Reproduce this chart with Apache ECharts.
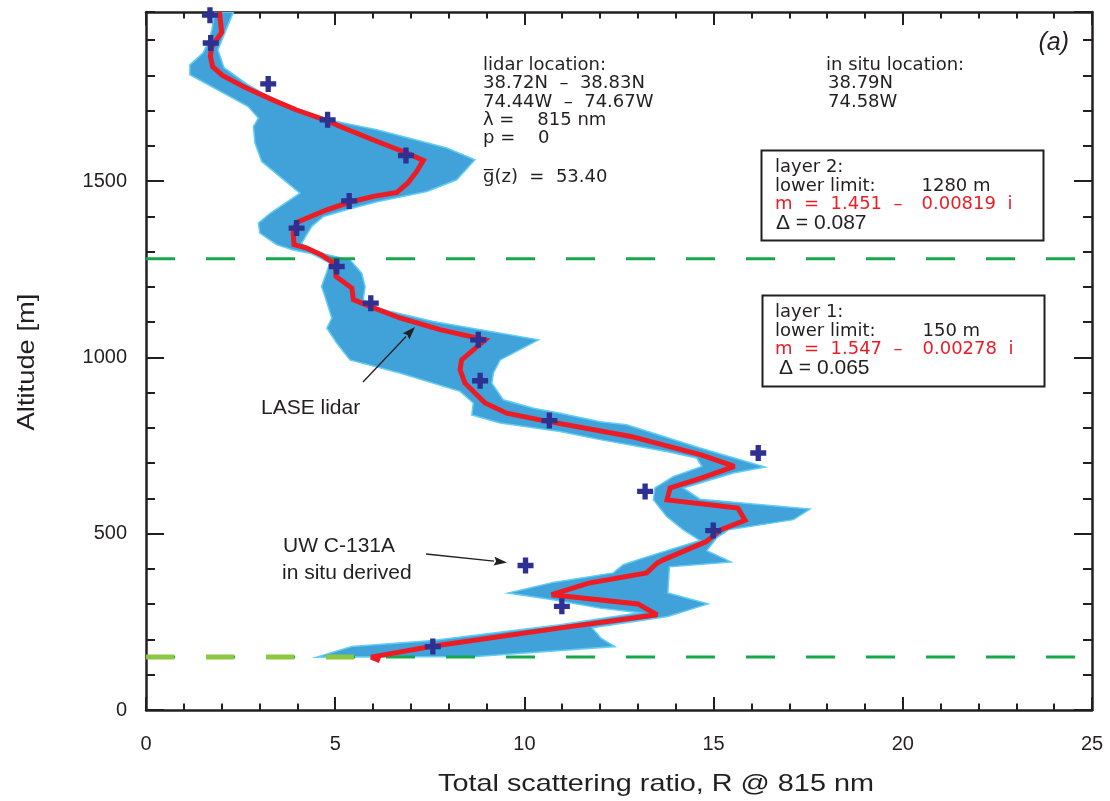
<!DOCTYPE html>
<html><head><meta charset="utf-8">
<script src="https://cdn.jsdelivr.net/npm/echarts@6/dist/echarts.min.js"></script>
<style>html,body{margin:0;padding:0;background:#fff}#c{width:1110px;height:801px}</style>
</head><body><div id="c"></div>
<script>
// ---- data (R = total scattering ratio, altitude in m) ----
const xTicks = [0, 5, 10, 15, 20, 25];
const yTicks = [0, 500, 1000, 1500];
const layerLimits = [150, 1280];

// LASE lidar profile [R, altitude]
const lidarProfile = [
  [6.18,140],[5.95,150],[7.53,180],[10.96,233],[13.51,270],[13.00,301],[10.72,327],
  [11.70,360],[13.23,389],[13.51,417],[13.67,426],[14.81,478],[15.18,511],[15.83,538],[15.64,573],
  [13.77,596],[13.85,630],[14.67,658],[15.55,691],[14.67,724],[12.81,776],[10.41,823],
  [9.53,842],[8.96,871],[8.43,927],[8.30,965],[8.34,993],[8.96,1050],[7.77,1079],
  [6.71,1112],[5.92,1145],[5.48,1164],[5.44,1197],[5.02,1230],[5.00,1265],[4.64,1291],
  [4.25,1310],[3.91,1320],[3.89,1353],[3.98,1383],[4.78,1419],[5.39,1441],[6.01,1457],
  [6.63,1468],[6.92,1495],[7.15,1527],[7.33,1559],[6.89,1580],[6.01,1617],[5.13,1655],
  [4.78,1672],[3.98,1702],[3.36,1730],[2.60,1767],[2.02,1800],[1.76,1825],[1.70,1855],
  [1.74,1882],[2.00,1922],[1.94,1980]
];

// UW C-131A in situ derived [R, altitude]
const inSitu = [
  [7.58,180],[10.99,294],[10.03,410],[14.99,509],[13.19,620],[16.18,729],[10.66,821],
  [8.83,934],[8.78,1050],[5.94,1154],[5.04,1258],[3.98,1367],[5.37,1444],[6.87,1573],
  [4.80,1674],[3.23,1776],[1.71,1892],[1.69,1971]
];

// uncertainty band: left edge bottom->top, right edge top->bottom [R, altitude]
const bandLeft = [
  [4.51,150],[5.44,180],[7.58,197],[10.94,242],[13.05,276],[12.00,289],[10.76,313],
  [9.57,332],[10.76,362],[12.35,389],[12.61,412],[13.05,428],[13.85,455],[14.64,481],
  [14.20,511],[13.76,549],[13.41,596],[13.45,630],[13.93,662],[14.69,691],[14.55,715],
  [13.76,733],[12.00,767],[10.94,790],[9.36,814],[8.61,837],[8.65,871],[8.30,904],
  [6.71,956],[5.39,993],[5.04,1041],[4.78,1083],[4.91,1112],[4.73,1173],[4.64,1201],
  [4.86,1268],[4.39,1294],[3.89,1305],[3.45,1320],[3.01,1353],[2.97,1381],[3.28,1409],
  [4.07,1466],[3.54,1513],[3.06,1556],[2.88,1608],[2.84,1655],[2.97,1679],[2.70,1712],
  [2.22,1740],[1.16,1802],[1.16,1830],[1.51,1864],[1.64,1892],[1.74,1929],[1.82,1980]
];
const bandRight = [
  [2.31,1980],[2.08,1920],[1.90,1873],[2.06,1822],[2.66,1776],[3.54,1721],[4.60,1679],
  [6.10,1646],[7.95,1594],[8.69,1561],[8.21,1504],[7.42,1471],[6.10,1442],[5.30,1419],
  [4.69,1400],[4.38,1372],[4.11,1324],[4.42,1301],[5.39,1277],[5.70,1239],[5.79,1201],
  [5.74,1164],[6.10,1140],[7.59,1102],[10.37,1050],[9.36,993],[9.18,956],[9.14,927],
  [9.44,880],[10.24,856],[10.94,842],[12.00,818],[12.70,809],[14.64,743],[16.36,689],
  [15.52,672],[14.20,630],[14.64,598],[17.55,570],[17.11,540],[15.39,511],[15.08,488],
  [14.82,452],[15.46,420],[13.83,406],[13.79,332],[14.85,301],[13.79,265],[11.79,233],
  [12.02,204],[12.39,180],[8.73,152]
];

// ---- chart ----
const INK = '#231f20';
const SANS = '"Liberation Sans", Arial, sans-serif';
const IDL = '"DejaVu Sans", sans-serif';
const axisFont = {fontFamily: SANS, fontSize: 20, color: INK};

function xAx(pos, showLabel) {
  return {type:'value', min:0, max:25, interval:5, position:pos,
    axisLine:{show:true, onZero:false, lineStyle:{color:INK, width:2.5}},
    axisTick:{show:true, inside:true, length:13, lineStyle:{color:INK, width:2}},
    minorTick:{show:true, splitNumber:5, length:6.5, lineStyle:{color:INK, width:2}},
    splitLine:{show:false}, minorSplitLine:{show:false},
    axisLabel:Object.assign({show:showLabel, margin:24,
      formatter: v => xTicks.includes(v) ? String(v) : ''}, axisFont)};
}
function yAx(pos, interval, len, showLine, showLabel) {
  return {type:'value', min:0, max:1980, interval:interval, position:pos,
    axisLine:{show:showLine, onZero:false, lineStyle:{color:INK, width:2.5}},
    axisTick:{show:true, inside:true, length:len, lineStyle:{color:INK, width:2}},
    splitLine:{show:false},
    axisLabel:Object.assign({show:showLabel, margin:19, showMaxLabel:false,
      formatter: v => yTicks.includes(v) ? String(v) : ''}, axisFont)};
}

function txt(x, y, text, o) {
  o = o || {};
  return {type:'text', x:x, y:y, rotation:o.rot || 0, scaleX:o.sx || 1, z:100,
    style:{text:text, fontSize:o.size || 18, fontFamily:o.family || IDL,
      fontStyle:o.style || 'normal', fill:o.color || INK,
      align:o.align || 'left', verticalAlign:'middle',
      textAlign:o.align || 'left', textVerticalAlign:'middle'}};
}
function arrow(x1, y1, x2, y2) {
  const a = Math.atan2(y2 - y1, x2 - x1), L = 13, W = 4.5;
  const bx = x2 - L * Math.cos(a), by = y2 - L * Math.sin(a);
  const px = -Math.sin(a) * W, py = Math.cos(a) * W;
  return [
    {type:'line', z:100, shape:{x1:x1, y1:y1, x2:bx, y2:by}, style:{stroke:INK, lineWidth:1.3}},
    {type:'polygon', z:100, shape:{points:[[x2,y2],[bx+px,by+py],[bx+2*Math.cos(a),by+2*Math.sin(a)],[bx-px,by-py]]}, style:{fill:INK}}
  ];
}

const cross = 'path://M5,0H10V5H15V10H10V15H5V10H0V5H5Z';

const series = [
  {type:'custom', name:'band', xAxisIndex:0, yAxisIndex:0, clip:true, silent:true, z:1,
   data:[0],
   renderItem:(params, api) => ({type:'polygon',
     shape:{points: bandLeft.concat(bandRight).map(p => api.coord(p))},
     style:{fill:'#41a1d9', stroke:'#5fcdf5', lineWidth:1.5}})}
];
layerLimits.forEach(l => series.push({type:'line', xAxisIndex:0, yAxisIndex:0, silent:true, z:3,
  symbol:'none', data:[[0,l],[25,l]], lineStyle:{color:'#17a84b', width:3, type:[29,31]}}));
series.push({type:'line', xAxisIndex:0, yAxisIndex:0, silent:true, z:4, symbol:'none',
  data:[[0,layerLimits[0]],[5.5,layerLimits[0]]], lineStyle:{color:'#8dc63f', width:5, type:[28,32]}});
series.push({type:'line', name:'LASE lidar', xAxisIndex:0, yAxisIndex:0, silent:true, z:5,
  symbol:'none', data:lidarProfile, lineStyle:{color:'#ed1c24', width:5, join:'miter', miterLimit:3}});
series.push({type:'scatter', name:'in situ', xAxisIndex:0, yAxisIndex:0, silent:true, z:6, clip:false,
  symbol:cross, symbolSize:16, data:inSitu, itemStyle:{color:'#2e3192', opacity:1}});

const graphics = [
  txt(483, 65, 'lidar location:'),
  txt(483, 83.5, '38.72N  \u2013  38.83N'),
  txt(483, 102, '74.44W  \u2013  74.67W'),
  txt(483, 120, '\u03bb =    815 nm'),
  txt(483, 138.5, 'p =    0'),
  txt(483, 177, 'g\u0305(z)  =  53.40'),
  txt(826, 65, 'in situ location:'),
  txt(828, 83.5, '38.79N'),
  txt(828, 102, '74.58W'),
  txt(1069, 43, '(a)', {family:SANS, size:25, style:'italic', align:'right'}),
  {type:'rect', z:100, shape:{x:761.5, y:150.5, width:282, height:90}, style:{fill:'none', stroke:INK, lineWidth:2}},
  txt(775, 167, 'layer 2:'),
  txt(775, 186, 'lower limit:'),
  txt(921.5, 186, '1280 m'),
  txt(775, 204.5, 'm  =  1.451  \u2013', {color:'#ed1c24'}),
  txt(921.5, 204.5, '0.00819  i', {color:'#ed1c24'}),
  txt(776, 223.5, '\u0394 = 0.087', {family:SANS, size:21}),
  {type:'rect', z:100, shape:{x:762.5, y:295.5, width:282, height:91}, style:{fill:'none', stroke:INK, lineWidth:2}},
  txt(775, 312.5, 'layer 1:'),
  txt(775, 331, 'lower limit:'),
  txt(922.5, 331, '150 m'),
  txt(775, 349.5, 'm  =  1.547  \u2013', {color:'#ed1c24'}),
  txt(922.5, 349.5, '0.00278  i', {color:'#ed1c24'}),
  txt(779, 368.5, '\u0394 = 0.065', {family:SANS, size:21}),
  txt(261, 408, 'LASE lidar', {family:SANS, size:21}),
  txt(283, 546, 'UW C-131A', {family:SANS, size:21}),
  txt(282, 573, 'in situ derived', {family:SANS, size:21}),
  txt(656, 784, 'Total scattering ratio, R @ 815 nm', {family:SANS, size:24, align:'center', sx:1.2}),
  txt(27, 362, 'Altitude [m]', {family:SANS, size:24, align:'center', rot:Math.PI/2, sx:1.14})
].concat(arrow(363, 382, 415, 327), arrow(426, 554, 507, 562.5));

const chart = echarts.init(document.getElementById('c'));
chart.setOption({
  animation:false,
  backgroundColor:'#ffffff',
  grid:{left:146, right:18, top:12, bottom:91, containLabel:false},
  xAxis:[xAx('bottom', true), xAx('top', false)],
  yAxis:[yAx('left', 500, 18, true, true), yAx('left', 100, 9, false, false),
         yAx('right', 500, 18, true, false), yAx('right', 100, 9, false, false)],
  series:series,
  graphic:graphics
});
</script>
</body></html>
